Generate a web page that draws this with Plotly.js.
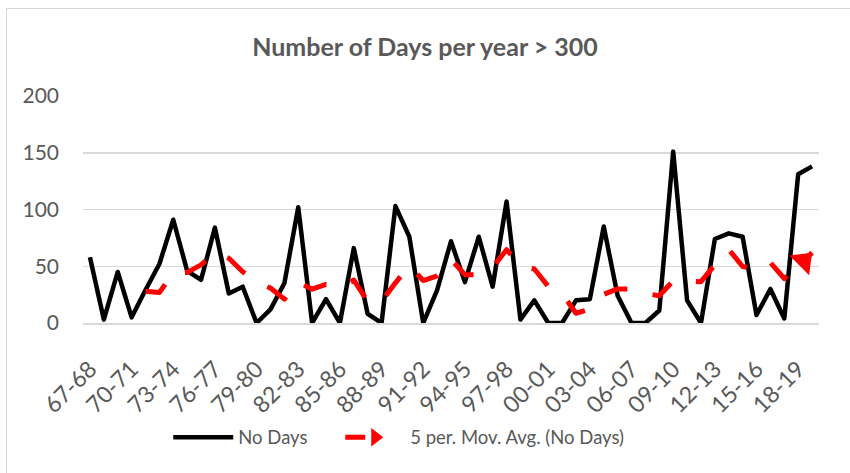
<!DOCTYPE html>
<html>
<head>
<meta charset="utf-8">
<script src="https://cdn.plot.ly/plotly-3.0.1.min.js"></script>
<style>
  html, body { margin: 0; padding: 0; background: #fff; }
  #wrap { position: relative; width: 850px; height: 473px; overflow: hidden; }
  #chart { position: absolute; left: 0; top: 0; width: 850px; height: 473px; }
  #frame { position: absolute; left: 6px; top: 8px; width: 860px; height: 480px;
           border: 1.5px solid #d9d9d9; pointer-events: none; box-sizing: border-box; }
  .scatterlayer .js-line { stroke-linejoin: round; }
</style>
</head>
<body>
<div id="wrap">
  <div id="chart"></div>
  <div id="frame"></div>
</div>
<script>
const seasons = ["67-68","68-69","69-70","70-71","71-72","72-73","73-74","74-75","75-76","76-77",
  "77-78","78-79","79-80","80-81","81-82","82-83","83-84","84-85","85-86","86-87",
  "87-88","88-89","89-90","90-91","91-92","92-93","93-94","94-95","95-96","96-97",
  "97-98","98-99","99-00","00-01","01-02","02-03","03-04","04-05","05-06","06-07",
  "07-08","08-09","09-10","10-11","11-12","12-13","13-14","14-15","15-16","16-17",
  "17-18","18-19","19-20"];

const noDays = [58,3,45,5,29,52,91,46,38,84,
  26,32,0,12,35,102,0,21,0,66,
  8,0,103,76,0,29,72,36,76,32,
  107,3,20,0,0,20,21,85,24,0,
  0,11,151,20,0,74,79,76,7,30,
  4,131,138];

const movAvg = [null,null,null,null,28,26.8,44.4,44.6,51.2,62.2,
  57,45.2,36,30.8,21,36.2,29.8,34,31.6,37.8,
  19,19,35.4,50.6,37.4,41.6,56,42.6,42.6,49,
  64.6,50.8,47.6,32.4,26,8.6,12.2,25.2,30,30,
  26,24,37.2,36.4,36.4,51.2,64.8,49.8,47.2,53.2,
  39.2,49.6,62];

const yTicks = [0,50,100,150,200];

const FONT = "Lato, 'Open Sans', sans-serif";
const GREY = "#595959";

const n = seasons.length;

const traces = [
  {
    x: seasons, y: noDays, type: "scatter", mode: "lines", name: "No Days\u2003\u2003",
    line: { color: "#000000", width: 4.5 },
    hoverinfo: "skip"
  },
  {
    x: seasons, y: movAvg, type: "scatter", mode: "lines",
    name: "5 per. Mov. Avg. (No Days)", showlegend: false,
    line: { color: "#ff0000", width: 5, dash: "24px,26px" },
    connectgaps: false, hoverinfo: "skip"
  },
  {
    x: seasons.slice(n - 1), y: movAvg.slice(n - 1), type: "scatter", mode: "markers",
    showlegend: false,
    marker: { color: "#ff0000", size: 24, symbol: "triangle-up",
              angleref: "up", angle: 45, standoff: 12, line: { width: 0 } },
    hoverinfo: "skip"
  },
  {
    x: [null], y: [null], type: "scatter", mode: "lines+markers",
    name: "5 per. Mov. Avg. (No Days)",
    line: { color: "#ff0000", width: 5, dash: "20px,200px" },
    marker: { color: "#ff0000", size: 16, symbol: "triangle-right" },
    hoverinfo: "skip"
  }
];

const layout = {
  width: 850, height: 473,
  margin: { l: 83, r: 31, t: 96, b: 150 },
  paper_bgcolor: "#ffffff", plot_bgcolor: "#ffffff",
  font: { family: FONT, color: GREY, size: 20 },
  title: {
    text: "<b>Number of Days per year > 300</b>",
    font: { family: FONT, color: GREY, size: 25 },
    x: 0.5, xref: "container", xanchor: "center",
    y: 0.9, yref: "container", yanchor: "middle"
  },
  showlegend: true,
  legend: {
    orientation: "h", x: 0.429, xanchor: "center", y: -0.505, yanchor: "middle",
    font: { family: FONT, color: GREY, size: 18.5 },
    itemwidth: 60, traceorder: "normal", bgcolor: "rgba(0,0,0,0)"
  },
  xaxis: {
    type: "category", range: [-0.5, n - 0.5], autorange: false, dtick: 3, tick0: 0,
    tickangle: -45, ticks: "", showgrid: false,
    showline: true, linecolor: "#d9d9d9", linewidth: 1.5,
    tickfont: { family: FONT, color: GREY, size: 23 },
    ticklabelstandoff: 22, zeroline: false, fixedrange: true
  },
  yaxis: {
    range: [0, 200], autorange: false, tickvals: yTicks, ticks: "",
    showgrid: true, gridcolor: "#d9d9d9", gridwidth: 1.5,
    zeroline: false, showline: false,
    tickfont: { family: FONT, color: GREY, size: 21 },
    ticklabelstandoff: 23, fixedrange: true
  }
};

Plotly.newPlot("chart", traces, layout, { displayModeBar: false, staticPlot: true });
</script>
</body>
</html>
